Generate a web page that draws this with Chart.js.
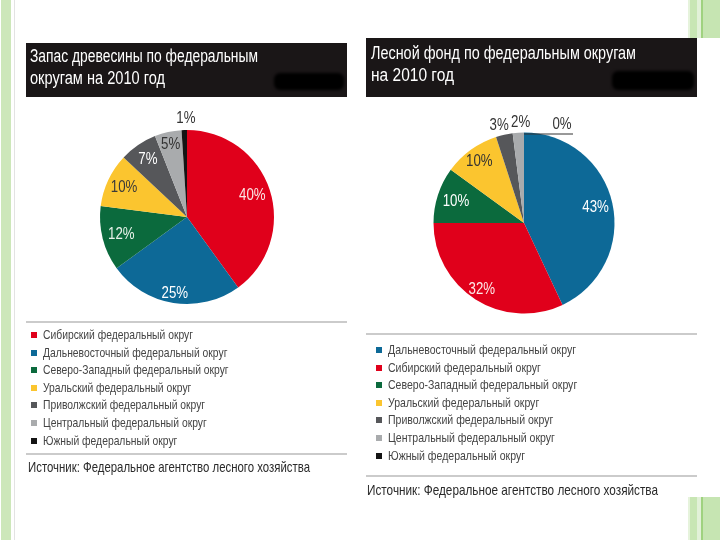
<!DOCTYPE html>
<html><head><meta charset="utf-8">
<script src="https://cdn.jsdelivr.net/npm/chart.js@4.4.1/dist/chart.umd.min.js"></script>
<style>
html,body{margin:0;padding:0;background:#fff;width:720px;height:540px;overflow:hidden;
  font-family:"Liberation Sans","Arial",sans-serif;}
.abs{position:absolute;}
.title{position:absolute;background:#1a1617;color:#fff;font-size:17.5px;line-height:22px;box-sizing:border-box;white-space:nowrap;}
.title div{height:22px;}
.title span,.legend span.t,.src span{display:inline-block;transform-origin:0 50%;white-space:nowrap;}
.smudge{position:absolute;background:#000;border-radius:6px;filter:blur(1.5px);}
.rule{position:absolute;height:2px;background:#cbcbcb;}
.legend{position:absolute;font-size:13.5px;color:#444;white-space:nowrap;}
.legend div{position:relative;height:17.6px;line-height:17.6px;padding-left:12px;}
.legend span.m{position:absolute;left:0;top:6px;width:6px;height:6px;}
.src{position:absolute;font-size:15px;color:#2a2a2a;white-space:nowrap;}
</style></head><body>

<div class="abs" style="left:1px;top:0;width:10px;height:540px;background:#cde7ba;"></div>
<div class="abs" style="left:14px;top:0;width:1px;height:540px;background:#e3e3e3;"></div>
<div class="abs" style="left:688px;top:0;width:32px;height:38px;background:linear-gradient(90deg,#e6f3dc 0,#e6f3dc 2px,#c8e6b4 2px,#c8e6b4 9px,#e2f1d8 9px,#e2f1d8 13px,#9fd27f 13px,#9fd27f 15px,#c6e5b2 15px);"></div>
<div class="abs" style="left:688px;top:497px;width:32px;height:43px;background:linear-gradient(90deg,#e6f3dc 0,#e6f3dc 2px,#c8e6b4 2px,#c8e6b4 9px,#e2f1d8 9px,#e2f1d8 13px,#9fd27f 13px,#9fd27f 15px,#c6e5b2 15px);"></div>

<div class="title" id="t1" style="left:26px;top:43px;width:321px;height:54px;padding:2px 0 0 4px;"></div>
<div class="smudge" style="left:274px;top:73px;width:70px;height:17px;"></div>
<div class="title" id="t2" style="left:366px;top:38px;width:331px;height:59px;padding:4px 0 0 5px;line-height:23px;"></div>
<div class="smudge" style="left:612px;top:71px;width:82px;height:19px;"></div>

<canvas id="c1" class="abs" width="240" height="240" style="left:67px;top:97px;"></canvas>
<canvas id="c2" class="abs" width="240" height="240" style="left:404px;top:103px;"></canvas>

<div class="rule" style="left:26px;top:321px;width:321px;"></div>
<div class="legend" id="lg1" style="left:31px;top:326px;"></div>
<div class="rule" style="left:26px;top:453px;width:321px;"></div>
<div class="src" id="s1" style="left:28px;top:458px;"></div>

<div class="rule" style="left:366px;top:333px;width:331px;"></div>
<div class="legend" id="lg2" style="left:376px;top:341px;"></div>
<div class="rule" style="left:366px;top:475px;width:331px;"></div>
<div class="src" id="s2" style="left:367px;top:481px;"></div>

<script>
// ---- data ----
const leftTitle = ["Запас древесины по федеральным", "округам на 2010 год"];
const rightTitle = ["Лесной фонд по федеральным округам", "на 2010 год"];
const leftCategories = ["Сибирский федеральный округ", "Дальневосточный федеральный округ", "Северо-Западный федеральный округ", "Уральский федеральный округ", "Приволжский федеральный округ", "Центральный федеральный округ", "Южный федеральный округ"];
const leftValues = [40, 25, 12, 10, 7, 5, 1];
const rightCategories = ["Дальневосточный федеральный округ", "Сибирский федеральный округ", "Северо-Западный федеральный округ", "Уральский федеральный округ", "Приволжский федеральный округ", "Центральный федеральный округ", "Южный федеральный округ"];
const rightValues = [43, 32, 10, 10, 3, 2, 0];
const sourceText = "Источник: Федеральное агентство лесного хозяйства";

// ---- styles ----
const districtColors = {
  "Сибирский федеральный округ": "#e0001b",
  "Дальневосточный федеральный округ": "#0d6997",
  "Северо-Западный федеральный округ": "#0b6a3d",
  "Уральский федеральный округ": "#fbc52f",
  "Приволжский федеральный округ": "#56575a",
  "Центральный федеральный округ": "#a9abad",
  "Южный федеральный округ": "#141414"
};
const FONT = '"Liberation Sans","Arial",sans-serif';
const LABEL_SQUEEZE = 0.78;

function fitSpan(el, target){
  const w = el.getBoundingClientRect().width;
  el.style.transform = 'scaleX(' + (target / w) + ')';
  return target / w;
}
function fillTitle(id, lines, targets){
  const box = document.getElementById(id);
  box.innerHTML = lines.map(l=>'<div><span>'+l+'</span></div>').join('');
  box.querySelectorAll('span').forEach((s,i)=>fitSpan(s, targets[i]));
}
fillTitle('t1', leftTitle, [228, 135]);
fillTitle('t2', rightTitle, [265, 83]);

function fillLegend(id, cats, firstWidth){
  const box = document.getElementById(id);
  box.innerHTML = cats.map(c=>'<div><span class="m" style="background:'+districtColors[c]+'"></span><span class="t">'+c+'</span></div>').join('');
  const spans = box.querySelectorAll('span.t');
  const s = firstWidth / spans[0].getBoundingClientRect().width;
  spans.forEach(sp=>sp.style.transform='scaleX('+s+')');
}
fillLegend('lg1', leftCategories, 150);
fillLegend('lg2', rightCategories, 188);

function fillSrc(id, w){
  const el = document.getElementById(id);
  el.innerHTML = '<span>' + sourceText + '</span>';
  fitSpan(el.firstChild, w);
}
fillSrc('s1', 282);
fillSrc('s2', 291);

const pctLabels = {
  id: 'pctLabels',
  afterDatasetsDraw(chart, args, opts){
    const ctx = chart.ctx;
    const meta = chart.getDatasetMeta(0);
    const data = chart.data.datasets[0].data;
    meta.data.forEach((arc, i) => {
      const p = arc.getProps(['x','y','startAngle','endAngle','outerRadius'], true);
      const mid = (p.startAngle + p.endAngle) / 2;
      const txt = data[i] + '%';
      let tx, ty;
      ctx.save();
      if (data[i] === 0) {
        const sx = p.x + Math.cos(mid) * p.outerRadius;
        const sy = p.y + Math.sin(mid) * p.outerRadius;
        ctx.strokeStyle = '#333'; ctx.lineWidth = 1;
        ctx.beginPath(); ctx.moveTo(sx, sy + 1.5); ctx.lineTo(sx + opts.leader, sy + 1.5); ctx.stroke();
        tx = sx + opts.leader - 11; ty = sy - 8;
      } else {
        const r = p.outerRadius * opts.radius[i];
        tx = p.x + Math.cos(mid) * r + (opts.dx ? opts.dx[i] : 0);
        ty = p.y + Math.sin(mid) * r;
      }
      ctx.translate(tx, ty);
      ctx.scale(LABEL_SQUEEZE, 1);
      ctx.font = opts.size + 'px ' + FONT;
      ctx.fillStyle = opts.colors[i];
      ctx.textAlign = 'center';
      ctx.textBaseline = 'middle';
      ctx.fillText(txt, 0, 0);
      ctx.restore();
    });
  }
};

function makePie(id, cats, vals, pad, labelRadius, labelColors, dx){
  return new Chart(document.getElementById(id), {
    type: 'pie',
    data: { labels: cats, datasets: [{ data: vals, backgroundColor: cats.map(c=>districtColors[c]), borderWidth: 0 }] },
    options: {
      responsive: false, animation: false, devicePixelRatio: 1,
      layout: { padding: pad },
      plugins: { legend: { display: false }, tooltip: { enabled: false },
        pctLabels: { size: 17, radius: labelRadius, colors: labelColors, leader: 49, dx: dx } }
    },
    plugins: [pctLabels]
  });
}
makePie('c1', leftCategories, leftValues, 33,
  [0.79, 0.89, 0.78, 0.8, 0.8, 0.86, 1.14],
  ['#fbe6e6', '#ffffff', '#e8f2ea', '#3a3a3a', '#ffffff', '#333333', '#333333'],
  [0, 0, 0, 0, 0, 0, 2]);
makePie('c2', rightCategories, rightValues, 29.5,
  [0.81, 0.87, 0.79, 0.84, 1.11, 1.12, 1.1],
  ['#ffffff', '#fde8e8', '#ffffff', '#333333', '#333333', '#333333', '#333333'],
  [0, 0, 0, 0, -3, 3, 0]);
</script>
</body></html>
